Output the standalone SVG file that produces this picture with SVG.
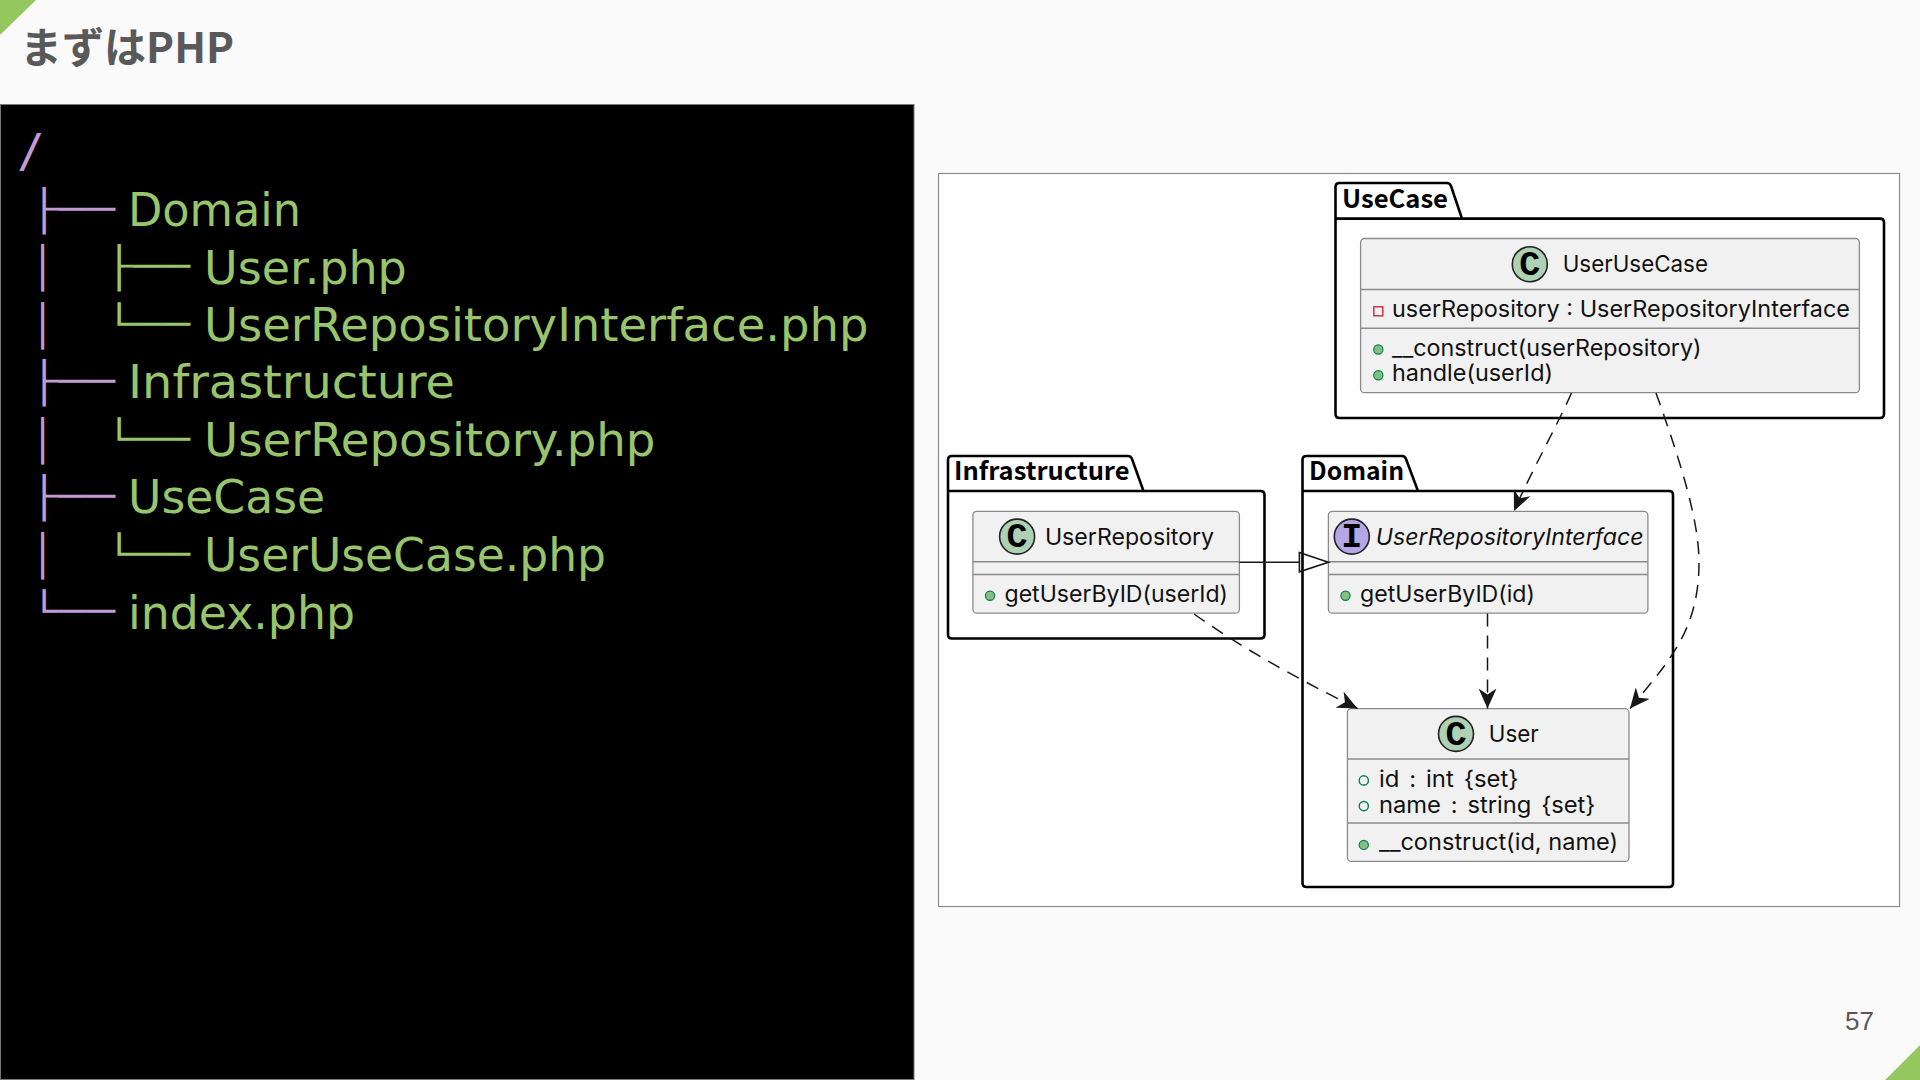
<svg xmlns="http://www.w3.org/2000/svg" width="1920" height="1080" viewBox="0 0 1920 1080">
<style>
text{font-family:"Inter","Liberation Sans",sans-serif;fill:#111}
.t{font-size:22.5px}
.m{font-size:22.5px}
.pk{font-family:"Noto Sans CJK JP","Noto Sans",sans-serif;font-size:25px;font-weight:700;fill:#000}
.box{fill:#f1f1f1;stroke:#8a8a8a;stroke-width:1.3}
.div{stroke:#8a8a8a;stroke-width:1.5;fill:none}
.pkg{fill:none;stroke:#000;stroke-width:2.6;stroke-linejoin:round}
.c{fill:#ADD1B2;stroke:#222;stroke-width:1.6}
.i{fill:#B4A7E5;stroke:#222;stroke-width:1.6}
.l{font-family:"Liberation Mono",monospace;font-size:35px;font-weight:700;fill:#000}
.pub{fill:#84BE84;stroke:#038048;stroke-width:1.2}
.hol{fill:none;stroke:#038048;stroke-width:1.4}
.pri{fill:none;stroke:#C82930;stroke-width:1.4}
.dash{fill:none;stroke:#181818;stroke-width:1.5;stroke-dasharray:13 9}
.tree{font-family:"DejaVu Sans",sans-serif;font-size:46px;fill:#98C46B}
.bx{font-family:"Liberation Mono",monospace;font-size:42px}
.g{fill:#98C46B}
.p{fill:#C39BD3}
</style>
<defs>
<marker id="open" markerUnits="userSpaceOnUse" markerWidth="22" markerHeight="18" refX="20" refY="9" orient="auto" viewBox="0 0 22 18">
<path d="M0 0 L20 9 L0 18 L6 9 Z" fill="#181818"/>
</marker>
</defs>
<rect width="1920" height="1080" fill="#fafafa"/>
<polygon id="corner-tl" points="0,0 36,0 0,35" fill="#94C85F"/>
<polygon id="corner-br" points="1885,1080 1920,1045 1920,1080" fill="#94C85F"/>
<text id="title" x="20" y="63" style="font-family:'Noto Sans CJK JP',sans-serif;font-size:42px;font-weight:700;fill:#595959" textLength="214" lengthAdjust="spacingAndGlyphs">まずはPHP</text>
<text id="page" x="1845" y="1030" style="font-family:'Liberation Sans',sans-serif;font-size:26px;fill:#595959">57</text>

<g id="tree-panel">
<rect x="0.5" y="104.5" width="913.5" height="975" fill="#000" stroke="#777" stroke-width="1"/>
<text class="p" x="17" y="167" style="font-family:'DejaVu Sans Mono',monospace;font-size:46px">/</text>
<text class="bx p" x="30" y="222" textLength="85" lengthAdjust="spacingAndGlyphs">├──</text>
<text class="bx p" x="30" y="279">│</text>
<text class="bx g" x="105" y="279" textLength="85" lengthAdjust="spacingAndGlyphs">├──</text>
<text class="bx p" x="30" y="337">│</text>
<text class="bx g" x="105" y="337" textLength="85" lengthAdjust="spacingAndGlyphs">└──</text>
<text class="bx p" x="30" y="394" textLength="85" lengthAdjust="spacingAndGlyphs">├──</text>
<text class="bx p" x="30" y="452">│</text>
<text class="bx g" x="105" y="452" textLength="85" lengthAdjust="spacingAndGlyphs">└──</text>
<text class="bx p" x="30" y="509" textLength="85" lengthAdjust="spacingAndGlyphs">├──</text>
<text class="bx p" x="30" y="567">│</text>
<text class="bx g" x="105" y="567" textLength="85" lengthAdjust="spacingAndGlyphs">└──</text>
<text class="bx p" x="30" y="624" textLength="85" lengthAdjust="spacingAndGlyphs">└──</text>
<text class="tree" x="128" y="226" textLength="173" lengthAdjust="spacingAndGlyphs">Domain</text>
<text class="tree" x="204" y="284">User.php</text>
<text class="tree" x="204" y="341" textLength="664.5" lengthAdjust="spacingAndGlyphs">UserRepositoryInterface.php</text>
<text class="tree" x="128" y="398" textLength="327" lengthAdjust="spacingAndGlyphs">Infrastructure</text>
<text class="tree" x="204" y="456" textLength="451.5" lengthAdjust="spacingAndGlyphs">UserRepository.php</text>
<text class="tree" x="128" y="513" textLength="197" lengthAdjust="spacingAndGlyphs">UseCase</text>
<text class="tree" x="204" y="571" textLength="402" lengthAdjust="spacingAndGlyphs">UserUseCase.php</text>
<text class="tree" x="128" y="629" textLength="227" lengthAdjust="spacingAndGlyphs">index.php</text>
</g>

<rect id="diagram-bg" x="938.5" y="173.5" width="961" height="733" fill="#fff" stroke="#8c8c8c" stroke-width="1.2"/>

<g id="pkg-usecase">
<path class="pkg" d="M1335.5 218.6 V187 Q1335.5 183 1339.5 183 H1447 Q1450 183 1451 186 L1462 218.6 H1880 Q1884 218.6 1884 222.6 V414 Q1884 418 1880 418 H1339.5 Q1335.5 418 1335.5 414 Z M1335.5 218.6 H1462"/>
<text class="pk" x="1342" y="207.5" textLength="106" lengthAdjust="spacingAndGlyphs">UseCase</text>
</g>
<g id="pkg-infrastructure">
<path class="pkg" d="M948 491 V460 Q948 456 952 456 H1128 Q1131 456 1132 459 L1143.5 491 H1260.5 Q1264.5 491 1264.5 495 V634.5 Q1264.5 638.5 1260.5 638.5 H952 Q948 638.5 948 634.5 Z M948 491 H1143.5"/>
<text class="pk" x="954" y="480" textLength="175.5" lengthAdjust="spacingAndGlyphs">Infrastructure</text>
</g>
<g id="pkg-domain">
<path class="pkg" d="M1302.5 491 V460 Q1302.5 456 1306.5 456 H1402 Q1405 456 1406 459 L1418 491 H1669 Q1673 491 1673 495 V883 Q1673 887 1669 887 H1306.5 Q1302.5 887 1302.5 883 Z M1302.5 491 H1418"/>
<text class="pk" x="1309" y="480" textLength="95" lengthAdjust="spacingAndGlyphs">Domain</text>
</g>

<g id="class-UserUseCase">
<rect class="box" x="1360.6" y="238.5" width="498.8" height="154.2" rx="4"/>
<path class="div" d="M1360.6 289.4 H1859.4 M1360.6 328.2 H1859.4"/>
<circle class="c" cx="1529.8" cy="264.2" r="17.5"/>
<text class="l" x="1529.8" y="275" text-anchor="middle">C</text>
<text class="t" x="1562.7" y="272" textLength="145.3" lengthAdjust="spacingAndGlyphs">UserUseCase</text>
<rect class="pri" x="1373.8" y="306.8" width="9" height="9"/>
<text class="m" x="1392" y="317" textLength="458" lengthAdjust="spacingAndGlyphs">userRepository : UserRepositoryInterface</text>
<circle class="pub" cx="1378.3" cy="349.5" r="4.6"/>
<text class="m" x="1392" y="355.5" textLength="309.6" lengthAdjust="spacingAndGlyphs">__construct(userRepository)</text>
<circle class="pub" cx="1378.3" cy="375.2" r="4.6"/>
<text class="m" x="1392" y="381" textLength="161" lengthAdjust="spacingAndGlyphs">handle(userId)</text>
</g>

<g id="class-UserRepository">
<rect class="box" x="972.9" y="511.4" width="266.5" height="101.8" rx="4"/>
<path class="div" d="M972.9 561.8 H1239.4 M972.9 574.4 H1239.4"/>
<circle class="c" cx="1017.1" cy="536.6" r="17.5"/>
<text class="l" x="1017.1" y="547.4" text-anchor="middle">C</text>
<text class="t" x="1044.9" y="545" textLength="169.2" lengthAdjust="spacingAndGlyphs">UserRepository</text>
<circle class="pub" cx="990" cy="595.8" r="4.6"/>
<text class="m" x="1004.5" y="602" textLength="223.5" lengthAdjust="spacingAndGlyphs">getUserByID(userId)</text>
</g>

<g id="class-UserRepositoryInterface">
<rect class="box" x="1328.4" y="511.4" width="319.5" height="101.8" rx="4"/>
<path class="div" d="M1328.4 561.8 H1647.9 M1328.4 574.4 H1647.9"/>
<circle class="i" cx="1351.8" cy="536.6" r="17.5"/>
<text class="l" x="1351.8" y="547.4" text-anchor="middle">I</text>
<text class="t" x="1375.8" y="545" textLength="267.7" lengthAdjust="spacingAndGlyphs" font-style="italic">UserRepositoryInterface</text>
<circle class="pub" cx="1345.5" cy="595.8" r="4.6"/>
<text class="m" x="1360" y="602" textLength="174.9" lengthAdjust="spacingAndGlyphs">getUserByID(id)</text>
</g>

<g id="class-User">
<rect class="box" x="1347.4" y="708.7" width="281.6" height="152.7" rx="4"/>
<path class="div" d="M1347.4 759.1 H1629 M1347.4 823 H1629"/>
<circle class="c" cx="1456" cy="733.9" r="17.5"/>
<text class="l" x="1456" y="744.7" text-anchor="middle">C</text>
<text class="t" x="1488.8" y="742" textLength="49.9" lengthAdjust="spacingAndGlyphs">User</text>
<circle class="hol" cx="1363.8" cy="780.4" r="4.6"/>
<text class="m" x="1378.9" y="787.3" textLength="139.6" lengthAdjust="spacingAndGlyphs" style="word-spacing:3px">id : int {set}</text>
<circle class="hol" cx="1363.8" cy="806.1" r="4.6"/>
<text class="m" x="1378.9" y="812.5" textLength="216.6" lengthAdjust="spacingAndGlyphs" style="word-spacing:3px">name : string {set}</text>
<circle class="pub" cx="1363.8" cy="844.9" r="4.6"/>
<text class="m" x="1378.9" y="850.3" textLength="239.3" lengthAdjust="spacingAndGlyphs">__construct(id, name)</text>
</g>

<g id="connectors">
<path class="dash" marker-end="url(#open)" d="M1571.5 393 C1555 430 1532 470 1514 511"/>
<path class="dash" marker-end="url(#open)" d="M1656 393 C1680 460 1699 520 1699 562 C1699 630 1670 660 1630 708.5"/>
<path class="dash" marker-end="url(#open)" d="M1487.5 613.5 V708.5"/>
<path class="dash" marker-end="url(#open)" d="M1194 614 C1245 650 1300 680 1357.5 708.5"/>
<path d="M1239.4 562.3 H1299.4" fill="none" stroke="#181818" stroke-width="1.6"/>
<polygon points="1299.4,552.6 1328.4,562.3 1299.4,571.8" fill="none" stroke="#181818" stroke-width="1.6"/>
</g>
</svg>
